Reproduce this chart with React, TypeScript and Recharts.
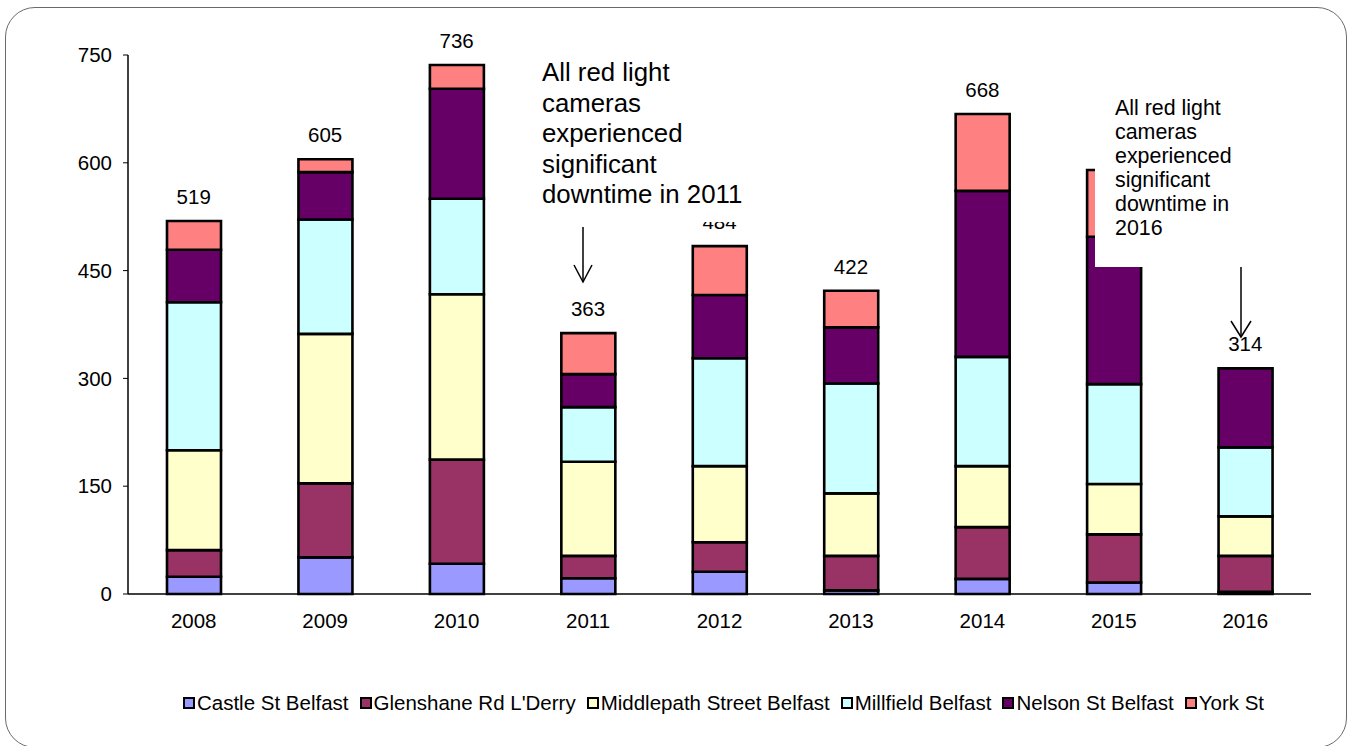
import React from 'react';
import { ComposedChart, Bar, Line, XAxis, YAxis, LabelList, Legend } from 'recharts';

const years = ['2008', '2009', '2010', '2011', '2012', '2013', '2014', '2015', '2016'];
const castleSt = [24, 51, 42, 22, 31, 5, 21, 16, 3];
const glenshaneRd = [37, 103, 145, 31, 41, 48, 72, 67, 50];
const middlepathSt = [139, 208, 230, 131, 106, 87, 85, 70, 55];
const millfield = [206, 159, 133, 76, 150, 153, 152, 139, 96];
const nelsonSt = [73, 66, 153, 46, 88, 78, 231, 205, 110];
const yorkSt = [40, 18, 33, 57, 68, 51, 107, 93, 0];
const totals = [519, 605, 736, 363, 484, 422, 668, 590, 314];
// the 2015 total sits under the annotation box in the original, so it is not shown
const totalShown = [true, true, true, true, true, true, true, false, true];
const yTicks = [0, 150, 300, 450, 600, 750];
const boundaryTicks = [0, 1, 2, 3, 4, 5, 6, 7, 8, 9];

const series = [
  { key: 'castle', name: 'Castle St Belfast', color: '#9999FF', values: castleSt },
  { key: 'glenshane', name: "Glenshane Rd L'Derry", color: '#993366', values: glenshaneRd },
  { key: 'middlepath', name: 'Middlepath Street Belfast', color: '#FFFFCC', values: middlepathSt },
  { key: 'millfield', name: 'Millfield Belfast', color: '#CCFFFF', values: millfield },
  { key: 'nelson', name: 'Nelson St Belfast', color: '#660066', values: nelsonSt },
  { key: 'york', name: 'York St', color: '#FF8080', values: yorkSt },
];

const data = years.map((year, i) => {
  const row: Record<string, string | number> = {
    year,
    total: totals[i],
    totalLabel: totalShown[i] ? String(totals[i]) : '',
  };
  series.forEach((s) => {
    row[s.key] = s.values[i];
  });
  return row;
});

const FONT = '"Liberation Sans", Arial, Helvetica, sans-serif';
const TICK_FONT = 20.5;

const LegendContent = () => (
  <div style={{ display: 'flex', justifyContent: 'center', alignItems: 'center', height: 30, fontFamily: FONT, fontSize: 20.5, color: '#000' }}>
    {series.map((s, i) => (
      <div key={s.key} style={{ display: 'flex', alignItems: 'center', marginRight: i === series.length - 1 ? 0 : 11 }}>
        <span style={{ display: 'inline-block', width: 8, height: 8, background: s.color, border: '2px solid #000', marginRight: 2 }} />
        <span>{s.name}</span>
      </div>
    ))}
  </div>
);

export default function App() {
  return (
    <div style={{ position: 'absolute', left: 0, top: 0, width: 1351, height: 746, background: '#fff', fontFamily: FONT, overflow: 'hidden' }}>
      <div style={{ position: 'absolute', left: 5, top: 7, width: 1342, height: 741, border: '1.5px solid #6a6a6a', borderRadius: 30, boxSizing: 'border-box' }} />
      <ComposedChart width={1351} height={746} data={data} margin={{ top: 55, right: 40, bottom: 28, left: 0 }}>
        <XAxis
          xAxisId="bounds"
          type="number"
          domain={[0, 9]}
          ticks={boundaryTicks}
          allowDataOverflow
          interval={0}
          height={0}
          tickSize={6}
          tickFormatter={() => ''}
          axisLine={false}
          tickLine={{ stroke: '#000', strokeWidth: 1 }}
        />
        <XAxis
          xAxisId="cat"
          dataKey="year"
          height={94}
          tickLine={false}
          tickMargin={13}
          axisLine={{ stroke: '#000', strokeWidth: 1.5 }}
          tick={{ fill: '#000', fontSize: TICK_FONT }}
          interval={0}
        />
        <YAxis
          width={128}
          domain={[0, 750]}
          ticks={yTicks}
          interval={0}
          tickSize={5}
          tickMargin={11}
          axisLine={{ stroke: '#000', strokeWidth: 1.5 }}
          tickLine={{ stroke: '#000' }}
          tick={{ fill: '#000', fontSize: TICK_FONT }}
        />
        {series.map((s) => (
          <Bar
            key={s.key}
            xAxisId="cat"
            dataKey={s.key}
            name={s.name}
            stackId="a"
            fill={s.color}
            stroke="#000"
            strokeWidth={2.6}
            barSize={54}
            isAnimationActive={false}
          />
        ))}
        <Line
          xAxisId="cat"
          dataKey="total"
          stroke="none"
          dot={false}
          activeDot={false}
          legendType="none"
          isAnimationActive={false}
        >
          <LabelList dataKey="totalLabel" position="top" offset={17} fill="#000" fontSize={TICK_FONT} />
        </Line>
        <Legend verticalAlign="bottom" height={30} wrapperStyle={{ left: 132, width: 1183 }} content={<LegendContent />} />
      </ComposedChart>

      <div style={{ position: 'absolute', left: 535, top: 50, width: 225, height: 172, background: '#fff' }}>
        <div style={{ position: 'absolute', left: 7, top: 7, fontSize: 25.8, lineHeight: '30.5px', color: '#000', whiteSpace: 'nowrap' }}>
          All red light<br />cameras<br />experienced<br />significant<br />downtime in 2011
        </div>
      </div>
      <div style={{ position: 'absolute', left: 1095, top: 92, width: 170, height: 175, background: '#fff' }}>
        <div style={{ position: 'absolute', left: 20, top: 4, fontSize: 21.4, lineHeight: '24px', color: '#000', whiteSpace: 'nowrap' }}>
          All red light<br />cameras<br />experienced<br />significant<br />downtime in<br />2016
        </div>
      </div>
      <svg width={1351} height={746} style={{ position: 'absolute', left: 0, top: 0, pointerEvents: 'none' }}>
        <g stroke="#000" strokeWidth={1.5} fill="none">
          <line x1={583} y1={227} x2={583} y2={282} />
          <polyline points="574,265 583,282 592,265" />
          <line x1={1241} y1={267} x2={1241} y2={337} />
          <polyline points="1231,321 1241,337 1251,321" />
        </g>
      </svg>
    </div>
  );
}
